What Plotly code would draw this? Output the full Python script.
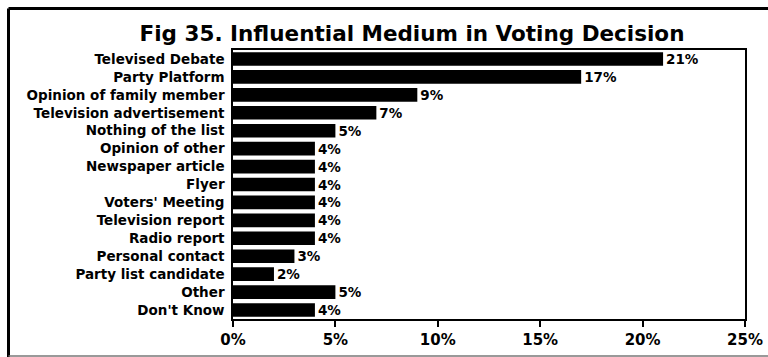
import plotly.graph_objects as go

# Survey results: share of respondents naming each medium
categories = [
    "Televised Debate",
    "Party Platform",
    "Opinion of family member",
    "Television advertisement",
    "Nothing of the list",
    "Opinion of other",
    "Newspaper article",
    "Flyer",
    "Voters' Meeting",
    "Television report",
    "Radio report",
    "Personal contact",
    "Party list candidate",
    "Other",
    "Don't Know",
]
percent = [21, 17, 9, 7, 5, 4, 4, 4, 4, 4, 4, 3, 2, 5, 4]

x_ticks = [0, 5, 10, 15, 20, 25]
x_tick_labels = ["0%", "5%", "10%", "15%", "20%", "25%"]

FONT = "DejaVu Sans"
W, H = 768, 357
L, R, T, B = 233, 23, 50, 38

fig = go.Figure(
    go.Bar(
        x=percent,
        y=categories,
        orientation="h",
        marker=dict(color="black", line=dict(width=0)),
        text=[f"{v}%" for v in percent],
        textposition="outside",
        constraintext="none",
        cliponaxis=False,
        textfont=dict(family=FONT, size=13.5, color="black", weight="bold"),
        width=0.76,
    )
)

# pixel -> paper coordinate helpers for the outer frame
def px_x(px):
    return (px - L) / (W - L - R)

def px_y(py):
    return (H - B - py) / (H - T - B)

frame = [
    dict(x0=px_x(8.5), x1=px_x(8.5), y0=px_y(8.5), y1=px_y(357), color="black", w=3),
    dict(x0=px_x(8.5), x1=px_x(770), y0=px_y(8.5), y1=px_y(8.5), color="black", w=3),
    dict(x0=px_x(8.5), x1=px_x(770), y0=px_y(356), y1=px_y(356), color="#777777", w=1.5),
]
for s in frame:
    fig.add_shape(
        type="line", xref="paper", yref="paper",
        x0=s["x0"], x1=s["x1"], y0=s["y0"], y1=s["y1"],
        line=dict(color=s["color"], width=s["w"]),
    )

fig.update_layout(
    width=W,
    height=H,
    margin=dict(l=L, r=R, t=T, b=B, pad=0, autoexpand=False),
    paper_bgcolor="white",
    plot_bgcolor="white",
    showlegend=False,
    title=dict(
        text="Fig 35. Influential Medium in Voting Decision",
        font=dict(family=FONT, size=21.5, color="black", weight="bold"),
        xref="paper",
        x=px_x(412),
        xanchor="center",
        yref="container",
        y=1 - 33 / H,
        yanchor="middle",
    ),
    xaxis=dict(
        range=[0, 25],
        tickvals=x_ticks,
        ticktext=x_tick_labels,
        ticks="outside",
        ticklen=6,
        tickwidth=1.5,
        tickcolor="black",
        showgrid=False,
        zeroline=False,
        showline=True,
        linecolor="black",
        linewidth=2,
        mirror=True,
        automargin=False,
        tickfont=dict(family=FONT, size=15, color="black", weight="bold"),
        ticklabelstandoff=0,
    ),
    yaxis=dict(
        autorange="reversed",
        showgrid=False,
        zeroline=False,
        showline=True,
        linecolor="black",
        linewidth=1.5,
        mirror=True,
        automargin=False,
        ticks="",
        tickfont=dict(family=FONT, size=13.5, color="black", weight="bold"),
        ticklabelstandoff=4,
    ),
)

fig.write_html("out.html")
